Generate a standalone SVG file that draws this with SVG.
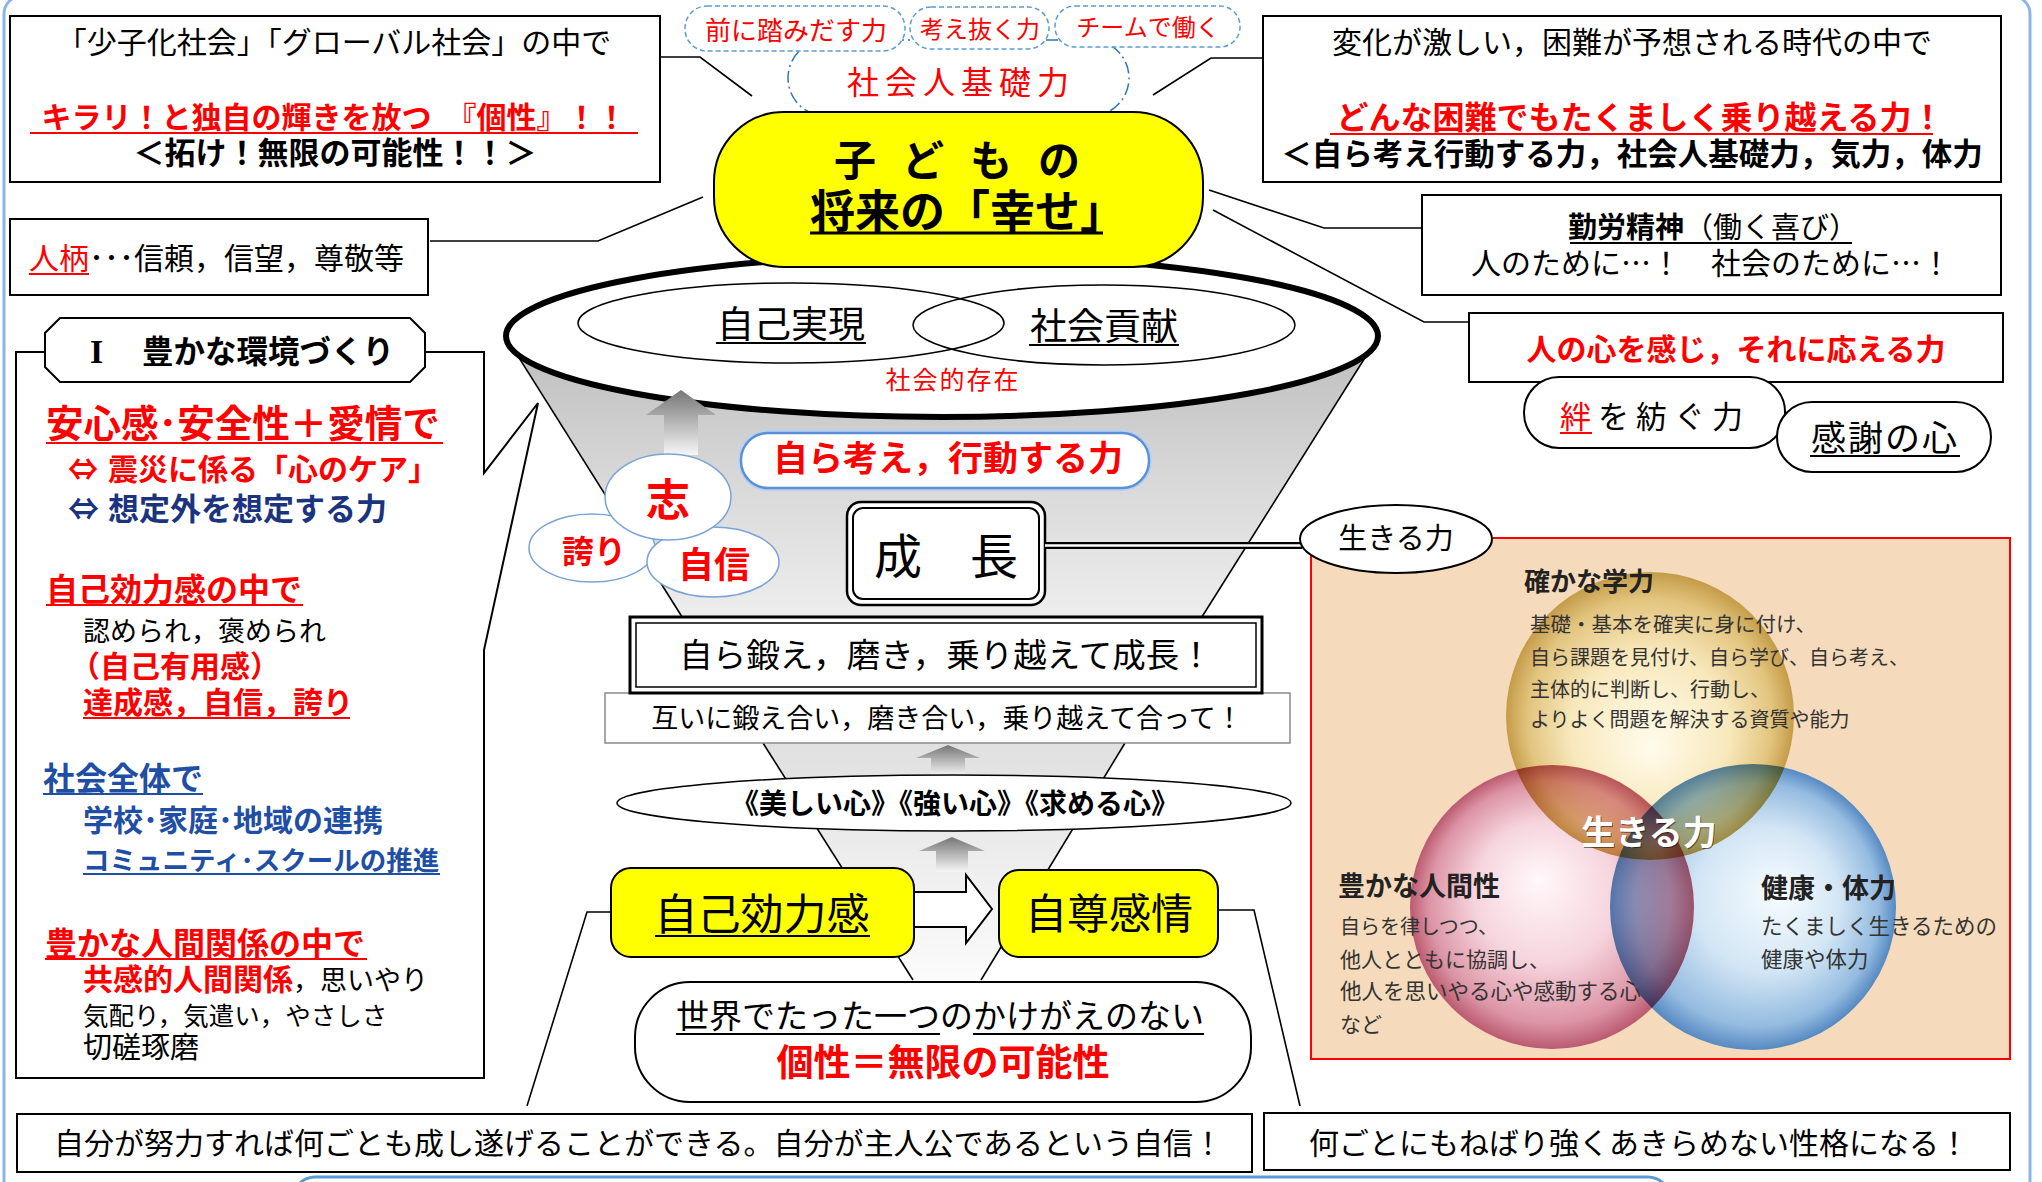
<svg xmlns="http://www.w3.org/2000/svg" width="2042" height="1182" viewBox="0 0 2042 1182">
<defs>
<style>
text{font-family:"Noto Sans CJK JP","Noto Sans CJK SC",sans-serif;fill:#000}
.b{font-weight:bold}
.r{fill:#ff0000}
.nv{fill:#1b3480}
.bl{fill:#1f4fa5}
.m{text-anchor:middle}
.box{fill:#fff;stroke:#000;stroke-width:2}
.ln{fill:none;stroke:#000;stroke-width:1.6}
.ulk{stroke:#000;stroke-width:2}
.ulr{stroke:#ff0000;stroke-width:2}
.ulb{stroke:#1f4fa5;stroke-width:2}
.dash{fill:#fff;stroke:#5b9bd5;stroke-width:1.5;stroke-dasharray:5 3}
.yel{fill:#ffff00;stroke:#000;stroke-width:2}
.bub{fill:#fff;stroke:#7aa3d6;stroke-width:1.5}
.vt{fill:#333}
.vh{fill:#222;font-weight:bold}
</style>
<linearGradient id="gFun" x1="0" y1="0" x2="0" y2="1">
<stop offset="0" stop-color="#bdbdbd"/><stop offset="0.5" stop-color="#d8d8d8"/><stop offset="1" stop-color="#eeeeee"/>
</linearGradient>
<linearGradient id="gCone" x1="0" y1="0" x2="0" y2="1">
<stop offset="0" stop-color="#e0e0e0"/><stop offset="1" stop-color="#fbfbfb"/>
</linearGradient>
<linearGradient id="gArr" x1="0" y1="0" x2="0" y2="1">
<stop offset="0" stop-color="#767676"/><stop offset="1" stop-color="#f6f6f6"/>
</linearGradient>
<radialGradient id="gTop" cx="0.5" cy="0.5" r="0.5" fx="0.5" fy="0.62">
<stop offset="0" stop-color="#fffbec"/><stop offset="0.55" stop-color="#f8e8bc"/><stop offset="0.85" stop-color="#e2c47e"/><stop offset="1" stop-color="#c49c48"/>
</radialGradient>
<radialGradient id="gLeft" cx="0.5" cy="0.5" r="0.5" fx="0.45" fy="0.4">
<stop offset="0" stop-color="#fff8fa"/><stop offset="0.5" stop-color="#f6d4dd"/><stop offset="0.85" stop-color="#dc94a5"/><stop offset="1" stop-color="#bb5a70"/>
</radialGradient>
<radialGradient id="gRight" cx="0.5" cy="0.5" r="0.5" fx="0.6" fy="0.45">
<stop offset="0" stop-color="#f7fcff"/><stop offset="0.5" stop-color="#d3e6f5"/><stop offset="0.85" stop-color="#94bbe0"/><stop offset="1" stop-color="#5689c2"/>
</radialGradient>
</defs>

<rect x="0" y="0" width="2042" height="1182" fill="#fff"/>
<rect id="frame" x="4" y="-4" width="2026" height="1250" rx="18" fill="none" stroke="#8db4e2" stroke-width="3"/>
<rect id="bottom-band" x="293" y="1177" width="1377" height="60" rx="22" fill="#fff" stroke="#5b9bd5" stroke-width="3"/>

<g id="n-kiso">
<rect x="788" y="40" width="341" height="76" rx="38" fill="#fff" stroke="#2e75b6" stroke-width="1.5" stroke-dasharray="12 4 2 4"/>
<text class="r" x="847" y="94" font-size="32" letter-spacing="6">社会人基礎力</text>
</g>
<g id="n-mae">
<rect class="dash" x="685" y="6" width="220" height="45" rx="22"/>
<text class="m r" x="796" y="40" font-size="26">前に踏みだす力</text>
</g>
<g id="n-kangae">
<rect class="dash" x="910" y="7" width="139" height="42" rx="21"/>
<text class="m r" x="980" y="38" font-size="24">考え抜く力</text>
</g>
<g id="n-team">
<rect class="dash" x="1055" y="6" width="185" height="41" rx="20"/>
<text class="m r" x="1148" y="36" font-size="24">チームで働く</text>
</g>

<g id="n-funnel">
<polygon points="506,337 1378,337 1200,620 684,620" fill="url(#gFun)"/>
<line class="ln" x1="506" y1="337" x2="684" y2="620"/>
<line class="ln" x1="1378" y1="337" x2="1200" y2="620"/>
<ellipse cx="942" cy="336" rx="436" ry="81" fill="#fff" stroke="#000" stroke-width="6"/>
<ellipse cx="791" cy="323" rx="213" ry="40" fill="none" stroke="#000" stroke-width="1.5"/>
<ellipse cx="1104" cy="325" rx="191" ry="40" fill="none" stroke="#000" stroke-width="1.5"/>
<text class="m" x="791" y="338" font-size="37">自己実現</text>
<line class="ulk" x1="716" y1="343" x2="866" y2="343"/>
<text class="m" x="1104" y="340" font-size="37">社会貢献</text>
<line class="ulk" x1="1029" y1="345" x2="1179" y2="345"/>
<text class="m r" x="953" y="389" font-size="25" letter-spacing="2">社会的存在</text>
</g>

<g id="n-lower-cone">
<polygon points="763,743 1125,743 981,980 913,980" fill="url(#gCone)"/>
<line class="ln" x1="763" y1="743" x2="913" y2="980"/>
<line class="ln" x1="1125" y1="743" x2="981" y2="980"/>
</g>

<g id="n-shiawase">
<rect class="yel" x="714" y="112" width="489" height="155" rx="70"/>
<text class="b" x="834" y="176" font-size="42" letter-spacing="26">子どもの</text>
<text class="b" x="810" y="228" font-size="45">将来の「幸せ」</text>
<line stroke="#000" stroke-width="3" x1="810" y1="233" x2="1103" y2="233"/>
</g>

<g id="n-kosei">
<rect class="box" x="10" y="16" width="650" height="166"/>
<text class="m" x="334" y="53" font-size="30">「少子化社会」「グローバル社会」の中で</text>
<text class="m b r" x="334" y="128" font-size="30">キラリ！と独自の輝きを放つ　『個性』！！</text>
<line class="ulr" x1="30" y1="133" x2="638" y2="133"/>
<text class="m b" x="335" y="164" font-size="31">＜拓け！無限の可能性！！＞</text>
</g>

<g id="n-hitogara">
<rect class="box" x="10" y="219" width="418" height="76"/>
<text x="29" y="269" font-size="30"><tspan class="r">人柄</tspan>･･･信頼，信望，尊敬等</text>
<line class="ulr" x1="29" y1="274" x2="89" y2="274"/>
</g>

<g id="n-konnan">
<rect class="box" x="1263" y="16" width="738" height="166"/>
<text class="m" x="1632" y="53" font-size="30">変化が激しい，困難が予想される時代の中で</text>
<text class="m b r" x="1640" y="129" font-size="32">どんな困難でもたくましく乗り越える力！</text>
<line class="ulr" x1="1330" y1="134" x2="1933" y2="134"/>
<text class="m b" x="1632" y="165" font-size="30.5">＜自ら考え行動する力，社会人基礎力，気力，体力</text>
</g>

<g id="n-kinrou">
<rect class="box" x="1422" y="195" width="579" height="100"/>
<text x="1568" y="238" font-size="29"><tspan class="b">勤労精神</tspan>（働く喜び）</text>
<line class="ulk" x1="1570" y1="243" x2="1852" y2="243"/>
<text class="m" x="1711" y="274" font-size="30">人のために…！　社会のために…！</text>
</g>

<g id="n-kokoro">
<rect class="box" x="1469" y="313" width="534" height="69"/>
<text class="m b r" x="1736" y="360" font-size="30">人の心を感じ，それに応える力</text>
</g>
<g id="n-kizuna">
<rect class="box" x="1524" y="377" width="261" height="71" rx="35"/>
<text x="1560" y="428" font-size="31" letter-spacing="7"><tspan class="r">絆</tspan>を紡ぐ力</text>
<line class="ulr" x1="1560" y1="433" x2="1592" y2="433"/>
</g>
<g id="n-kansha">
<rect class="box" x="1777" y="402" width="214" height="70" rx="35"/>
<text x="1811" y="451" font-size="35" letter-spacing="2">感謝の心</text>
<line class="ulk" x1="1810" y1="456" x2="1960" y2="456"/>
</g>

<g id="n-kankyo">
<path class="box" d="M16 352 H484 V473 L538 403 L484 650 V1078 H16 Z"/>
<polygon points="60,318 410,318 425,333 425,367 410,382 60,382 45,367 45,333" fill="#fff" stroke="#000" stroke-width="2"/>
<text class="b" y="363" font-size="31.5"><tspan x="90" font-family="Liberation Serif" font-size="34">I</tspan><tspan x="142">豊かな環境づくり</tspan></text>
<text class="b r" x="46" y="437" font-size="37.5">安心感･安全性＋愛情で</text>
<line class="ulr" x1="46" y1="443" x2="443" y2="443"/>
<text class="b r" y="480" font-size="30"><tspan x="68">⇔</tspan><tspan x="108">震災に係る「心のケア」</tspan></text>
<text class="b nv" y="520" font-size="31"><tspan x="68">⇔</tspan><tspan x="108">想定外を想定する力</tspan></text>
<text class="b r" x="46" y="601" font-size="32">自己効力感の中で</text>
<line class="ulr" x1="46" y1="605" x2="303" y2="605"/>
<text x="83" y="641" font-size="27">認められ，褒められ</text>
<text class="b r" x="70" y="677" font-size="30">（自己有用感）</text>
<text class="b r" x="83" y="713" font-size="30">達成感，自信，誇り</text>
<line class="ulr" x1="83" y1="718" x2="350" y2="718"/>
<text class="b bl" x="43" y="790" font-size="32">社会全体で</text>
<line class="ulb" x1="43" y1="794" x2="203" y2="794"/>
<text class="b bl" x="83" y="831" font-size="30">学校･家庭･地域の連携</text>
<text class="b bl" x="83" y="870" font-size="26.5">コミュニティ･スクールの推進</text>
<line class="ulb" x1="83" y1="874" x2="440" y2="874"/>
<text class="b r" x="45" y="955" font-size="32">豊かな人間関係の中で</text>
<line class="ulr" x1="45" y1="959" x2="367" y2="959"/>
<text x="83" y="990" font-size="30"><tspan class="b r">共感的人間関係</tspan><tspan font-size="27">，思いやり</tspan></text>
<text x="83" y="1025" font-size="25.5">気配り，気遣い，やさしさ</text>
<text x="83" y="1058" font-size="29">切磋琢磨</text>
</g>

<g id="n-arrow1">
<polygon points="681,390 716,415 698,415 698,455 664,455 664,415 646,415" fill="url(#gArr)"/>
</g>
<g id="n-hokori">
<ellipse class="bub" cx="592" cy="548" rx="63" ry="34"/>
<text class="m b r" x="594" y="563" font-size="32">誇り</text>
</g>
<g id="n-jishin">
<ellipse class="bub" cx="713" cy="562" rx="66" ry="35"/>
<text class="m b r" x="714" y="578" font-size="36">自信</text>
</g>
<g id="n-kokorozashi">
<ellipse class="bub" cx="668" cy="497" rx="63" ry="43"/>
<text class="m b r" x="668" y="516" font-size="44">志</text>
</g>

<g id="n-mizukara">
<rect x="741" y="433" width="408" height="55" rx="27" fill="none" stroke="#b9d2f2" stroke-width="6"/>
<rect x="741" y="433" width="408" height="55" rx="27" fill="#fff" stroke="#5b8fd6" stroke-width="2.5"/>
<text class="m b r" x="948" y="471" font-size="35">自ら考え，行動する力</text>
</g>

<g id="n-seicho">
<rect x="847" y="502" width="198" height="103" rx="14" fill="#fff" stroke="#000" stroke-width="2.5"/>
<rect x="853" y="508" width="186" height="91" rx="10" fill="none" stroke="#000" stroke-width="2"/>
<text class="m" x="946" y="574" font-size="48">成　長</text>
</g>

<g id="n-tagaini">
<rect x="605" y="693" width="685" height="50" fill="#fff" stroke="#8a8a8a" stroke-width="1.5"/>
<text class="m" x="947" y="728" font-size="27">互いに鍛え合い，磨き合い，乗り越えて合って！</text>
</g>
<g id="n-kitae">
<rect x="630" y="617" width="632" height="76" fill="#fff" stroke="#000" stroke-width="3"/>
<rect x="636" y="623" width="620" height="64" fill="none" stroke="#000" stroke-width="1.5"/>
<text class="m" x="946" y="667" font-size="33.5">自ら鍛え，磨き，乗り越えて成長！</text>
</g>

<g id="n-arrow2">
<polygon points="948,745 980,758 965,758 965,776 931,776 931,758 916,758" fill="url(#gArr)"/>
</g>
<g id="n-kokoro3">
<ellipse cx="954" cy="803" rx="337" ry="28" fill="#fff" stroke="#000" stroke-width="1.5"/>
<text class="m b" x="955" y="814" font-size="28">《美しい心》《強い心》《求める心》</text>
</g>
<g id="n-arrow3">
<polygon points="952,837 985,851 968,851 968,872 936,872 936,851 919,851" fill="url(#gArr)"/>
</g>

<g id="n-jikokoryoku">
<rect class="yel" x="611" y="868" width="303" height="89" rx="20"/>
<text class="m" x="762" y="930" font-size="43">自己効力感</text>
<line class="ulk" x1="655" y1="936" x2="870" y2="936"/>
</g>
<g id="n-jison">
<rect class="yel" x="999" y="870" width="219" height="87" rx="20"/>
<text class="m" x="1109" y="929" font-size="42">自尊感情</text>
</g>

<g id="n-sekai">
<rect class="box" x="635" y="982" width="616" height="120" rx="55"/>
<text x="676" y="1028" font-size="33">世界でたった一つのかけがえのない</text>
<line class="ulk" x1="676" y1="1034" x2="940" y2="1034"/>
<line class="ulk" x1="973" y1="1034" x2="1204" y2="1034"/>
<text class="m b r" x="943" y="1076" font-size="37">個性＝無限の可能性</text>
</g>

<g id="n-ikiru-panel">
<rect x="1311" y="538" width="699" height="521" fill="#f5dbbb" stroke="#ff0000" stroke-width="2"/>
<g style="isolation:isolate">
<circle cx="1650" cy="716" r="144" fill="url(#gTop)"/>
<circle cx="1552" cy="907" r="142" fill="url(#gLeft)" style="mix-blend-mode:multiply"/>
<circle cx="1753" cy="907" r="143" fill="url(#gRight)" style="mix-blend-mode:multiply"/>
</g>
<text class="vh" x="1524" y="591" font-size="26">確かな学力</text>
<text class="vt" x="1530" y="632" font-size="20.5">基礎・基本を確実に身に付け、</text>
<text class="vt" x="1530" y="665" font-size="20">自ら課題を見付け、自ら学び、自ら考え、</text>
<text class="vt" x="1530" y="697" font-size="20">主体的に判断し、行動し、</text>
<text class="vt" x="1530" y="727" font-size="20">よりよく問題を解決する資質や能力</text>
<text class="m b" x="1649" y="845" font-size="34" fill="#7a4a3a" opacity="0.5" dx="1" dy="1">生きる力</text>
<text class="m b" x="1649" y="845" font-size="34" style="fill:#fff">生きる力</text>
<text class="vh" x="1338" y="896" font-size="27">豊かな人間性</text>
<text class="vt" x="1340" y="934" font-size="20">自らを律しつつ、</text>
<text class="vt" x="1340" y="967" font-size="21">他人とともに協調し、</text>
<text class="vt" x="1340" y="999" font-size="21.5">他人を思いやる心や感動する心</text>
<text class="vt" x="1340" y="1032" font-size="21">など</text>
<text class="vh" x="1761" y="898" font-size="27">健康・体力</text>
<text class="vt" x="1761" y="934" font-size="21.5">たくましく生きるための</text>
<text class="vt" x="1761" y="967" font-size="21.5">健康や体力</text>
</g>

<g id="connectors">
<path class="ln" d="M660 57 H700 L752 96"/>
<path class="ln" d="M1153 95 L1211 58 H1263"/>
<path class="ln" d="M430 241 H598 L703 197"/>
<path class="ln" d="M1209 190 L1324 228 H1422"/>
<path class="ln" d="M1213 210 L1424 322 H1469"/>
<path class="ln" d="M611 912 H587 L527 1106"/>
<path class="ln" d="M1218 910 H1254 L1300 1106"/>
<line x1="1045" y1="545.5" x2="1302" y2="545.5" stroke="#000" stroke-width="7"/>
<line x1="1045" y1="545.5" x2="1302" y2="545.5" stroke="#fff" stroke-width="2.5"/>
<polygon points="914,892 966,892 966,875 992,909 966,943 966,927 914,927" fill="#fff" stroke="#000" stroke-width="2"/>
</g>

<g id="n-ikiru">
<ellipse cx="1396" cy="539" rx="96" ry="34" fill="#fff" stroke="#000" stroke-width="2"/>
<text class="m" x="1396" y="549" font-size="29">生きる力</text>
</g>

<g id="n-jishin-bottom">
<rect class="box" x="17" y="1114" width="1235" height="58"/>
<text x="54" y="1154" font-size="30">自分が努力すれば何ごとも成し遂げることができる。自分が主人公であるという自信！</text>
</g>
<g id="n-seikaku">
<rect class="box" x="1264" y="1113" width="746" height="57"/>
<text x="1309" y="1154" font-size="30">何ごとにもねばり強くあきらめない性格になる！</text>
</g>
</svg>
